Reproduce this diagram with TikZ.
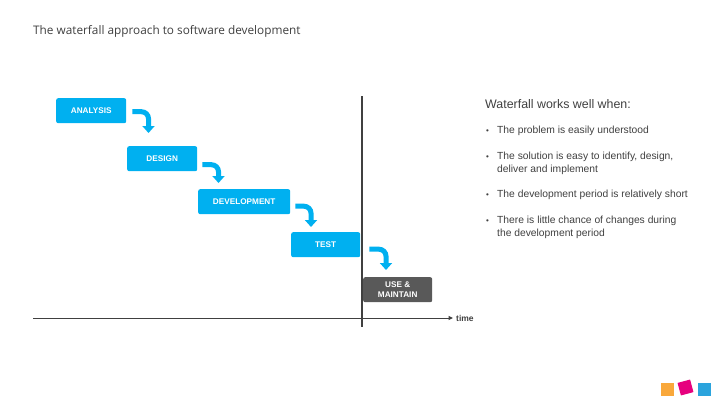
\documentclass[tikz,border=0pt]{standalone}
\usepackage{fontspec}
\setmainfont{Liberation Sans}
\newfontfamily\titlefont{Open Sans}
\usetikzlibrary{arrows.meta,calc}
\definecolor{stepblue}{HTML}{00B0F0}
\definecolor{stepgray}{HTML}{595959}
\definecolor{txtgray}{HTML}{404040}
\definecolor{sqorange}{HTML}{F9A83B}
\definecolor{sqmagenta}{HTML}{E6007E}
\definecolor{sqblue}{HTML}{2BA4DD}
\tikzset{
  phase/.style={draw=none, fill=stepblue, rounded corners=2pt, minimum height=25pt,
    text=white, font=\bfseries\fontsize{8.2}{10}\selectfont, inner sep=0pt, align=center, anchor=north west},
  flowarrow/.style={draw=stepblue, line width=5pt, rounded corners=7pt,
    -{Triangle[width=12pt,length=7pt]}},
  bullettext/.style={anchor=base west, text=txtgray, font=\fontsize{10.3}{13}\selectfont, inner sep=0pt},
  bulletdot/.style={anchor=base west, text=txtgray, font=\fontsize{8}{13}\selectfont, inner sep=0pt}
}
\begin{document}
\begin{tikzpicture}[x=1pt,y=-1pt]
\useasboundingbox[fill=white] (0,0) rectangle (720,405);

% title
\node[anchor=west, inner sep=0pt, text=txtgray, font=\titlefont\fontsize{11.8}{13}\selectfont] (title) at (33,31) {The waterfall approach to software development};

% phases
\node[phase, minimum width=70pt] (ana) at (56,98) {ANALYSIS};
\node[phase, minimum width=70pt] (des) at (127,146) {DESIGN};
\node[phase, minimum width=92pt] (dev) at (198,189) {DEVELOPMENT};
\node[phase, minimum width=69pt] (tst) at (291,232) {TEST};
\node[phase, minimum width=69pt, fill=stepgray] (use) at (363,277) {USE \&\\MAINTAIN};

% axes
\coordinate (vtop) at (361.5,96);
\coordinate (vbot) at (361.5,327);
\draw[txtgray, line width=2pt] (vtop) -- (vbot);
\coordinate (hstart) at (33,318);
\node[anchor=west, inner sep=0pt, text=txtgray, font=\bfseries\fontsize{8.5}{9}\selectfont] (time) at (456,318.5) {time};
\draw[txtgray, line width=1pt, shorten >=3pt, -{Triangle[width=4pt,length=4.5pt]}] (hstart) -- (hstart -| time.west);

% flow arrows
\coordinate (a1) at ($(ana.east)+(6,1)$);
\coordinate (a2) at ($(des.north west)+(21.5,-13)$);
\draw[flowarrow] (a1) -| (a2);
\coordinate (b1) at ($(des.east)+(5,6)$);
\coordinate (b2) at ($(dev.north west)+(20.5,-6)$);
\draw[flowarrow] (b1) -| (b2);
\coordinate (c1) at ($(dev.east)+(5,4.5)$);
\coordinate (c2) at ($(tst.north west)+(20,-5)$);
\draw[flowarrow] (c1) -| (c2);
\coordinate (d1) at ($(tst.east)+(9,4.5)$);
\coordinate (d2) at ($(use.north west)+(23,-7)$);
\draw[flowarrow] (d1) -| (d2);

% right text
\node[anchor=base west, inner sep=0pt, text=txtgray, font=\fontsize{12.4}{14}\selectfont] (head) at (485,108.5) {Waterfall works well when:};
\node[bulletdot] (d1b) at (486,133) {\textbullet};
\node[bullettext] (t1) at (497,133) {The problem is easily understood};
\node[bulletdot] (d2b) at (486,159) {\textbullet};
\node[bullettext] (t2) at (497,159) {The solution is easy to identify, design,};
\node[bullettext] (t2b) at (497,172) {deliver and implement};
\node[bulletdot] (d3b) at (486,197) {\textbullet};
\node[bullettext] (t3) at (497,197) {The development period is relatively short};
\node[bulletdot] (d4b) at (486,223) {\textbullet};
\node[bullettext] (t4) at (497,223) {There is little chance of changes during};
\node[bullettext] (t4b) at (497,236) {the development period};

% logo squares
\fill[sqorange] (661,383) rectangle (674,396);
\fill[sqmagenta, rotate around={15:(685.5,387.5)}] (679,381) rectangle (692,394);
\fill[sqblue] (698,383) rectangle (711,396);
\end{tikzpicture}
\end{document}
